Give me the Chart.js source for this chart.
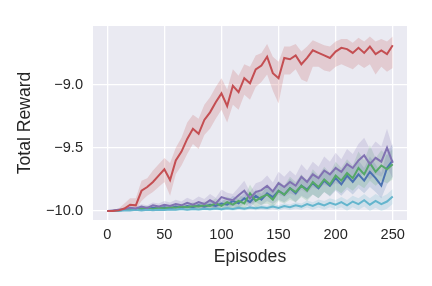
<!DOCTYPE html>
<html>
<head>
<meta charset="utf-8">
<script src="https://cdn.jsdelivr.net/npm/chart.js@4"></script>
<style>
  html, body { margin: 0; padding: 0; background: #fff; }
  canvas { display: block; }
</style>
</head>
<body>
<canvas id="chart" width="432" height="286"></canvas>
<script>
const episodes = [0, 5, 10, 15, 20, 25, 30, 35, 40, 45, 50, 55, 60, 65, 70, 75, 80, 85, 90, 95,
  100, 105, 110, 115, 120, 125, 130, 135, 140, 145, 150, 155, 160, 165, 170, 175, 180, 185, 190, 195,
  200, 205, 210, 215, 220, 225, 230, 235, 240, 245, 250];
const xTicks = [0, 50, 100, 150, 200, 250];
const yTicks = [-10.0, -9.5, -9.0];

const redMean = [-10.0, -10.0, -9.995, -9.98, -9.95, -9.955, -9.84, -9.81, -9.77, -9.72,
  -9.67, -9.755, -9.60, -9.53, -9.43, -9.35, -9.39, -9.28, -9.22, -9.14,
  -9.07, -9.17, -9.01, -9.06, -8.95, -8.99, -8.88, -8.85, -8.78, -8.91,
  -8.95, -8.79, -8.80, -8.77, -8.84, -8.79, -8.73, -8.75, -8.77, -8.79,
  -8.74, -8.71, -8.72, -8.75, -8.71, -8.75, -8.70, -8.76, -8.73, -8.76, -8.69];
const redUpper = [-9.995, -9.99, -9.98, -9.94, -9.90, -9.90, -9.76, -9.74, -9.68, -9.63,
  -9.58, -9.62, -9.50, -9.42, -9.30, -9.24, -9.27, -9.16, -9.10, -9.02,
  -8.95, -9.04, -8.88, -8.93, -8.84, -8.86, -8.77, -8.75, -8.68, -8.78,
  -8.82, -8.70, -8.70, -8.68, -8.74, -8.70, -8.65, -8.67, -8.69, -8.70,
  -8.66, -8.64, -8.64, -8.67, -8.63, -8.66, -8.62, -8.66, -8.64, -8.66, -8.62];
const redLower = [-10.0, -10.0, -10.0, -9.995, -9.99, -9.99, -9.92, -9.88, -9.85, -9.81,
  -9.77, -9.88, -9.71, -9.64, -9.55, -9.47, -9.51, -9.40, -9.35, -9.27,
  -9.20, -9.30, -9.16, -9.20, -9.08, -9.12, -9.02, -8.98, -8.92, -9.05,
  -9.15, -8.92, -8.92, -8.88, -8.96, -8.98, -8.86, -8.86, -8.89, -8.90,
  -8.86, -8.84, -8.86, -8.88, -8.84, -8.87, -8.84, -8.92, -8.86, -8.90, -8.87];

const purpleMean = [-10.0, -9.995, -9.99, -9.985, -9.975, -9.98, -9.965, -9.975, -9.955, -9.965,
  -9.95, -9.96, -9.945, -9.955, -9.935, -9.95, -9.93, -9.945, -9.915, -9.94,
  -9.89, -9.905, -9.915, -9.875, -9.84, -9.90, -9.85, -9.835, -9.80, -9.845,
  -9.78, -9.81, -9.77, -9.80, -9.73, -9.77, -9.71, -9.74, -9.68, -9.71,
  -9.66, -9.69, -9.63, -9.66, -9.60, -9.56, -9.63, -9.58, -9.61, -9.50, -9.62];
const purpleSpread = [0.002, 0.005, 0.008, 0.01, 0.012, 0.015, 0.018, 0.02, 0.022, 0.025,
  0.03, 0.028, 0.035, 0.03, 0.04, 0.035, 0.045, 0.04, 0.05, 0.045,
  0.06, 0.05, 0.05, 0.06, 0.08, 0.05, 0.07, 0.07, 0.08, 0.07,
  0.09, 0.08, 0.09, 0.08, 0.10, 0.09, 0.10, 0.09, 0.11, 0.10,
  0.12, 0.10, 0.12, 0.11, 0.13, 0.14, 0.12, 0.13, 0.12, 0.15, 0.12];

const greenMean = [-10.0, -10.0, -9.995, -9.99, -9.99, -9.985, -9.98, -9.975, -9.985, -9.975,
  -9.98, -9.97, -9.975, -9.965, -9.97, -9.96, -9.965, -9.955, -9.96, -9.94,
  -9.96, -9.93, -9.95, -9.92, -9.94, -9.86, -9.92, -9.89, -9.87, -9.91,
  -9.84, -9.87, -9.82, -9.85, -9.80, -9.84, -9.77, -9.81, -9.75, -9.79,
  -9.72, -9.76, -9.70, -9.74, -9.66, -9.71, -9.62, -9.69, -9.64, -9.67, -9.63];
const greenSpread = [0.002, 0.003, 0.005, 0.006, 0.008, 0.01, 0.012, 0.015, 0.012, 0.018,
  0.015, 0.02, 0.018, 0.025, 0.02, 0.03, 0.025, 0.03, 0.03, 0.04,
  0.03, 0.045, 0.04, 0.05, 0.045, 0.07, 0.05, 0.06, 0.07, 0.06,
  0.08, 0.07, 0.09, 0.08, 0.09, 0.08, 0.10, 0.09, 0.10, 0.09,
  0.11, 0.10, 0.11, 0.10, 0.13, 0.11, 0.14, 0.11, 0.12, 0.11, 0.12];

const blueMean = [-10.0, -10.0, -9.995, -9.99, -9.985, -9.99, -9.98, -9.985, -9.975, -9.98,
  -9.97, -9.98, -9.965, -9.975, -9.96, -9.97, -9.955, -9.965, -9.95, -9.96,
  -9.94, -9.95, -9.92, -9.94, -9.90, -9.93, -9.88, -9.91, -9.86, -9.89,
  -9.84, -9.87, -9.82, -9.86, -9.80, -9.83, -9.78, -9.82, -9.76, -9.80,
  -9.74, -9.79, -9.72, -9.77, -9.71, -9.76, -9.69, -9.74, -9.80, -9.66, -9.60];
const blueSpread = [0.002, 0.003, 0.004, 0.005, 0.007, 0.006, 0.01, 0.009, 0.012, 0.011,
  0.015, 0.013, 0.018, 0.016, 0.02, 0.018, 0.025, 0.022, 0.03, 0.027,
  0.035, 0.03, 0.04, 0.035, 0.045, 0.04, 0.05, 0.045, 0.06, 0.055,
  0.07, 0.06, 0.075, 0.07, 0.08, 0.075, 0.09, 0.08, 0.09, 0.085,
  0.10, 0.09, 0.11, 0.10, 0.11, 0.10, 0.12, 0.11, 0.10, 0.13, 0.13];

const cyanMean = [-10.0, -10.0, -9.998, -9.995, -9.995, -9.99, -9.995, -9.99, -9.993, -9.99,
  -9.992, -9.988, -9.99, -9.985, -9.99, -9.985, -9.988, -9.982, -9.986, -9.98,
  -9.985, -9.978, -9.984, -9.975, -9.982, -9.972, -9.978, -9.97, -9.976, -9.965,
  -9.975, -9.96, -9.97, -9.955, -9.965, -9.945, -9.96, -9.94, -9.955, -9.935,
  -9.95, -9.93, -9.955, -9.925, -9.945, -9.915, -9.95, -9.92, -9.945, -9.925, -9.885];
const cyanSpread = [0.001, 0.002, 0.003, 0.004, 0.004, 0.005, 0.005, 0.006, 0.006, 0.007,
  0.007, 0.008, 0.008, 0.009, 0.009, 0.01, 0.01, 0.011, 0.011, 0.012,
  0.012, 0.013, 0.013, 0.015, 0.014, 0.016, 0.016, 0.018, 0.018, 0.02,
  0.02, 0.022, 0.022, 0.025, 0.025, 0.028, 0.03, 0.032, 0.034, 0.036,
  0.038, 0.04, 0.042, 0.045, 0.046, 0.05, 0.05, 0.054, 0.055, 0.058, 0.06];

const FONT = '"Liberation Sans", Arial, sans-serif';
const TEXT = '#262626';

function pts(ys) {
  return episodes.map((x, i) => ({ x: x, y: ys[i] }));
}
function shift(mean, spread, sign) {
  return mean.map((v, i) => Math.max(-10.0, v + sign * spread[i]));
}

function line(label, ys, color, order) {
  return {
    label, data: pts(ys), borderColor: color, borderWidth: 2,
    pointRadius: 0, tension: 0, fill: false, order
  };
}
function band(upper, lower, rgb) {
  return [
    { data: pts(upper), borderWidth: 0, pointRadius: 0, fill: '+1',
      backgroundColor: 'rgba(' + rgb + ',0.2)', order: 20 },
    { data: pts(lower), borderWidth: 0, pointRadius: 0, fill: false, order: 20 }
  ];
}

const bgPlugin = {
  id: 'bg',
  beforeDraw(chart) {
    const { ctx, chartArea: a } = chart;
    ctx.save();
    ctx.fillStyle = '#EAEAF2';
    ctx.fillRect(a.left, a.top, a.right - a.left, a.bottom - a.top);
    ctx.restore();
  }
};

new Chart(document.getElementById('chart'), {
  type: 'line',
  data: {
    datasets: [
      ...band(redUpper, redLower, '196,78,82'),
      ...band(shift(purpleMean, purpleSpread, 1), shift(purpleMean, purpleSpread, -1), '129,114,178'),
      ...band(shift(greenMean, greenSpread, 1), shift(greenMean, greenSpread, -1), '85,168,104'),
      ...band(shift(blueMean, blueSpread, 1), shift(blueMean, blueSpread, -1), '76,114,176'),
      ...band(shift(cyanMean, cyanSpread, 1), shift(cyanMean, cyanSpread, -1), '100,181,205'),
      line('red', redMean, '#C44E52', 1),
      line('purple', purpleMean, '#8172B2', 2),
      line('cyan', cyanMean, '#64B5CD', 3),
      line('green', greenMean, '#55A868', 4),
      line('blue', blueMean, '#4C72B0', 5)
    ]
  },
  options: {
    responsive: false,
    animation: false,
    layout: { padding: { left: 0, right: 25, top: 26, bottom: 0 } },
    plugins: {
      legend: { display: false },
      tooltip: { enabled: false },
      filler: { drawTime: 'beforeDatasetsDraw' }
    },
    scales: {
      x: {
        type: 'linear', min: -12.5, max: 262.5,
        afterBuildTicks: s => { s.ticks = xTicks.map(v => ({ value: v })); },
        afterFit: s => { s.height = 66; },
        grid: { color: '#fff', lineWidth: 1.3, drawTicks: false },
        border: { display: false },
        ticks: { color: TEXT, padding: 6, font: { family: FONT, size: 14.6 } },
        title: { display: true, text: 'Episodes', color: TEXT,
          font: { family: FONT, size: 17.6 }, padding: { top: 0, bottom: 18 } }
      },
      y: {
        type: 'linear', min: -10.071, max: -8.5375,
        afterBuildTicks: s => { s.ticks = yTicks.map(v => ({ value: v })); },
        afterFit: s => { s.width = 93; },
        grid: { color: '#fff', lineWidth: 1.3, drawTicks: false },
        border: { display: false },
        ticks: { color: TEXT, padding: 10, font: { family: FONT, size: 14.6 },
          callback: v => v.toFixed(1).replace('-', '\u2212') },
        title: { display: true, text: 'Total Reward', color: TEXT,
          font: { family: FONT, size: 17.6 }, padding: { top: 15, bottom: 0 } }
      }
    }
  },
  plugins: [bgPlugin]
});
</script>
</body>
</html>
